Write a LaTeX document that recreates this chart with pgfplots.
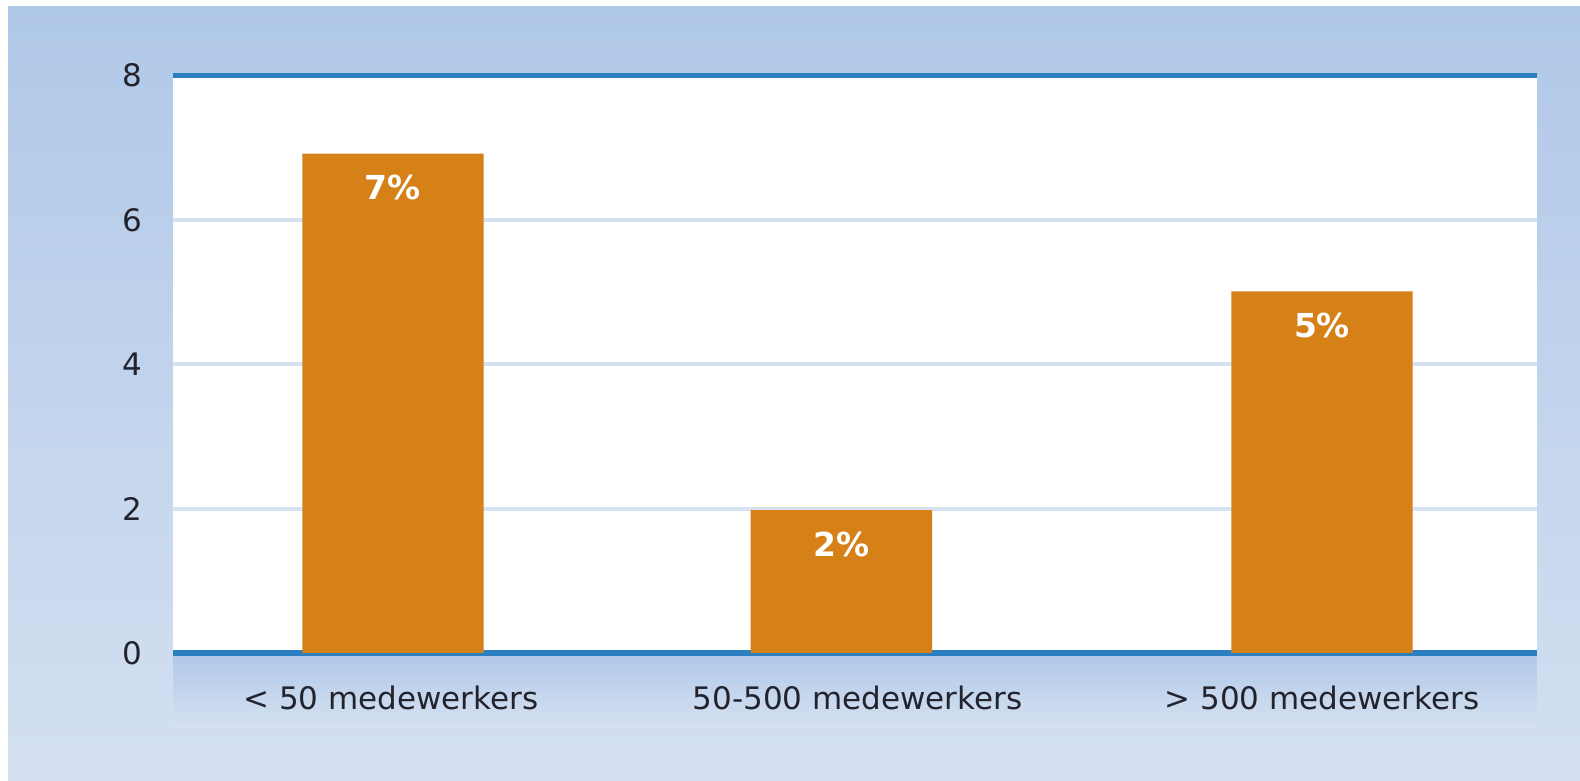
\documentclass[border=0pt]{standalone}
\usepackage{fontspec}
\setmainfont{DejaVu Sans}
\usepackage{pgfplots}
\pgfplotsset{compat=1.18}
\definecolor{bgtop}{RGB}{176,200,232}
\definecolor{bgbot}{RGB}{212,224,241}
\definecolor{barc}{RGB}{214,128,24}
\definecolor{linec}{RGB}{43,127,193}
\definecolor{gridc}{RGB}{214,226,242}
\definecolor{txt}{RGB}{35,35,45}
\begin{document}
\begin{tikzpicture}
\begin{scope}[x=0.50385pt,y=0.50385pt]
\fill[white] (-172,-127) rectangle (1396,648);
\shade[top color=bgtop, bottom color=bgbot] (-164,-127) rectangle (1396,642);
\shade[top color=bgtop, bottom color=bgbot!97!white] (0,-74) rectangle (1353,0);
\end{scope}
\begin{axis}[
  at={(0pt,0pt)}, anchor=south west,
  scale only axis, width=681.7pt, height=288.7pt,
  xmin=172, xmax=1525, ymin=0, ymax=8,
  axis background/.style={fill=white},
  axis line style={draw=none},
  ytick={2,4,6}, extra y ticks={0,8},
  extra y tick style={grid style={linec, line width=2.8pt}},
  ymajorgrids, grid style={gridc, line width=2pt},
  major tick length=0pt,
  xtick={388,851,1312},
  xticklabels={{< 50 medewerkers},{50-500 medewerkers},{> 500 medewerkers}},
  tick label style={font=\fontsize{15.5}{18}\selectfont, text=txt},
  /pgf/number format/assume math mode=true,
  yticklabel style={xshift=-12pt},
  xticklabel style={yshift=-13pt},
  ybar, bar width=180,
  nodes near coords, point meta=explicit symbolic,
  every node near coord/.append style={font=\bfseries\fontsize{16.5}{18}\selectfont, text=white, anchor=center, yshift=-17pt},
]
\addplot[fill=barc, draw=none] coordinates {(390,6.92) [7\%] (835,1.98) [2\%] (1312,5.01) [5\%]};
\end{axis}
\pgfresetboundingbox
\path[use as bounding box] (-86.66pt,-63.99pt) rectangle (703.37pt,326.5pt);
\end{tikzpicture}
\end{document}
